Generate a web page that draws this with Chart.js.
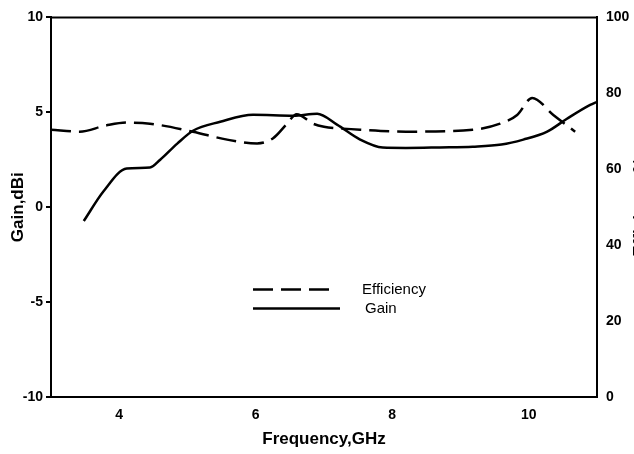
<!DOCTYPE html>
<html>
<head>
<meta charset="utf-8">
<script src="https://cdn.jsdelivr.net/npm/chart.js@4.4.0/dist/chart.umd.min.js"></script>
<style>
  html, body { margin: 0; padding: 0; background: #fff; overflow: hidden; }
  #wrap { width: 634px; height: 454px; overflow: hidden; }
</style>
</head>
<body>
<div id="wrap"><canvas id="gainChart" width="652" height="454" style="width:652px;height:454px"></canvas></div>
<script>
// Data
const freqTicks = [4, 6, 8, 10];

const gainFreq = [3.48, 3.77, 4.11, 4.45, 4.6, 4.85, 5.08, 5.48, 5.96, 6.55, 6.9, 7.19, 7.53, 7.86, 8.2, 8.7, 9.18, 9.6, 9.92, 10.27, 10.56, 10.9, 11.0];
const gain     = [-0.73, 0.84, 2.04, 2.09, 2.5, 3.35, 4.03, 4.5, 4.87, 4.82, 4.92, 4.35, 3.56, 3.14, 3.12, 3.15, 3.19, 3.3, 3.56, 3.98, 4.66, 5.39, 5.55];

const effFreq = [3.0, 3.42, 3.8, 4.11, 4.45, 5.08, 5.58, 6.02, 6.25, 6.45, 6.6, 6.84, 7.0, 7.28, 7.53, 8.2, 9.18, 9.58, 9.83, 10.05, 10.36, 10.68];
const efficiency = [70.4, 69.9, 71.5, 72.3, 72.0, 69.9, 67.8, 66.8, 68.1, 71.8, 74.5, 72.0, 71.2, 70.7, 70.4, 69.9, 70.4, 72.0, 74.3, 78.8, 74.3, 69.9];

const toPoints = (xs, ys) => xs.map((x, i) => ({ x: x, y: ys[i] }));

const font = 'Liberation Sans, Arial, sans-serif';

// top frame line, legend inside the plot, and the right axis title (reads upward)
const frameAndLegend = {
    id: 'frameAndLegend',
    afterDatasetsDraw(chart) {
        const ctx = chart.ctx;
        const a = chart.chartArea;
        ctx.save();
        ctx.strokeStyle = '#000';
        ctx.lineWidth = 2;
        ctx.beginPath();
        ctx.moveTo(a.left, a.top);
        ctx.lineTo(a.right, a.top);
        ctx.stroke();

        const rows = [
            { ds: chart.data.datasets[0], y: a.top + 272, len: 80, tx: a.left + 311 },
            { ds: chart.data.datasets[1], y: a.top + 291, len: 87, tx: a.left + 314 }
        ];
        const x0 = a.left + 202;
        rows.forEach(r => {
            ctx.strokeStyle = r.ds.borderColor;
            ctx.lineWidth = r.ds.borderWidth;
            ctx.setLineDash(r.ds.borderDash || []);
            ctx.beginPath();
            ctx.moveTo(x0, r.y);
            ctx.lineTo(x0 + r.len, r.y);
            ctx.stroke();
            ctx.setLineDash([]);
            ctx.fillStyle = '#000';
            ctx.font = '15px ' + font;
            ctx.textAlign = 'left';
            ctx.textBaseline = 'middle';
            ctx.fillText(r.ds.label, r.tx, r.y);
        });

        const y1 = chart.scales.y1;
        ctx.translate(y1.right - 12, (a.top + a.bottom) / 2);
        ctx.rotate(-Math.PI / 2);
        ctx.font = 'bold 17px ' + font;
        ctx.textAlign = 'center';
        ctx.textBaseline = 'middle';
        ctx.fillText('Efficiency,%', 0, 0);
        ctx.restore();
    }
};

const config = {
    type: 'line',
    data: {
        datasets: [{
            label: 'Efficiency',
            data: toPoints(effFreq, efficiency),
            yAxisID: 'y1',
            borderColor: '#000',
            borderWidth: 2.5,
            borderDash: [20, 8],
            pointRadius: 0,
            cubicInterpolationMode: 'monotone',
            fill: false
        }, {
            label: 'Gain',
            data: toPoints(gainFreq, gain),
            yAxisID: 'y',
            borderColor: '#000',
            borderWidth: 2.5,
            pointRadius: 0,
            cubicInterpolationMode: 'monotone',
            fill: false
        }]
    },
    options: {
        responsive: false,
        animation: false,
        layout: { padding: { top: 15, left: 0, right: 0, bottom: 0 } },
        plugins: { legend: { display: false }, tooltip: { enabled: false } },
        scales: {
            x: {
                type: 'linear',
                min: 3,
                max: 11,
                afterBuildTicks: s => { s.ticks = freqTicks.map(v => ({ value: v })); },
                afterFit: s => { s.height = 57; },
                grid: { display: false, drawTicks: false },
                border: { color: '#000', width: 2 },
                ticks: { color: '#000', padding: 10, font: { family: font, size: 14, weight: 'bold' } },
                title: { display: true, text: 'Frequency,GHz', color: '#000', padding: { top: 4, bottom: 4 },
                         font: { family: font, size: 17, weight: 'bold' } }
            },
            y: {
                position: 'left',
                min: -10,
                max: 10,
                afterFit: s => { s.width = 51; },
                grid: { drawOnChartArea: false, drawTicks: true, tickLength: 5, color: '#000', lineWidth: 2 },
                border: { color: '#000', width: 2 },
                ticks: { stepSize: 5, color: '#000', padding: 3, font: { family: font, size: 14, weight: 'bold' } },
                title: { display: true, text: 'Gain,dBi', color: '#000', padding: { top: 8, bottom: 4 },
                         font: { family: font, size: 17, weight: 'bold' } }
            },
            y1: {
                position: 'right',
                min: 0,
                max: 100,
                afterFit: s => { s.width = 55; },
                grid: { drawOnChartArea: false, drawTicks: false },
                border: { color: '#000', width: 2 },
                ticks: { stepSize: 20, color: '#000', padding: 9, font: { family: font, size: 14, weight: 'bold' } },
                title: { display: false }
            }
        }
    },
    plugins: [frameAndLegend]
};

const ctx = document.getElementById('gainChart').getContext('2d');
const gainChart = new Chart(ctx, config);
</script>
</body>
</html>
